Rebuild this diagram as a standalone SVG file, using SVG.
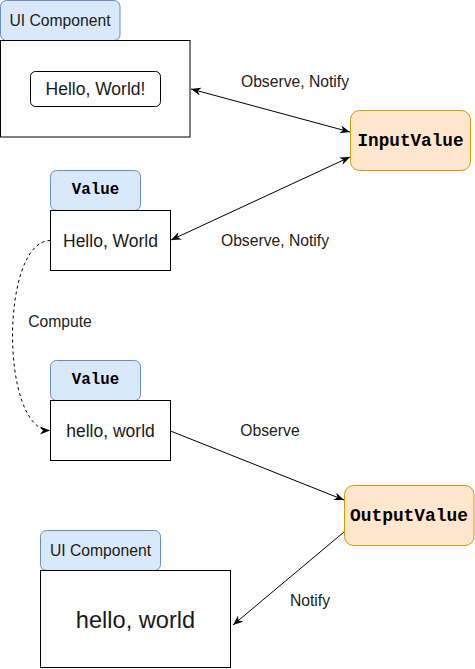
<svg xmlns="http://www.w3.org/2000/svg" width="475" height="669" viewBox="0 0 475 669">
<style>
.tab{fill:#dae8fc;stroke:#6c8ebf;stroke-width:1}
.box{fill:#fff;stroke:#000;stroke-width:1}
.orange{fill:#ffe6cc;stroke:#d79b00;stroke-width:1}
.t{font-family:"Liberation Sans",Arial,sans-serif;fill:#1a1a1a;text-anchor:middle;dominant-baseline:central}
.mono{font-family:"Liberation Mono","Courier New",monospace;font-weight:bold;fill:#000;text-anchor:middle;dominant-baseline:central}
.lbl{font-family:"Liberation Sans",Arial,sans-serif;font-size:15.7px;fill:#222;text-anchor:middle;dominant-baseline:central}
.edge{fill:none;stroke:#000;stroke-width:1}
</style>
<defs>
<marker id="arr" viewBox="0 0 10 8" refX="10" refY="4" markerWidth="10" markerHeight="8" markerUnits="userSpaceOnUse" orient="auto-start-reverse">
<path d="M0,0 L10,4 L0,8 L3,4 z" fill="#000"/>
</marker>
</defs>
<rect width="475" height="669" fill="#fff"/>

<g id="ui-top">
<rect class="tab" x="0.5" y="0.5" width="119.5" height="40" rx="6"/>
<text class="t" x="60" y="20" font-size="15.7">UI Component</text>
<rect class="box" x="0.5" y="40.5" width="189.5" height="96.5"/>
<rect class="box" x="30.5" y="71.5" width="130" height="35" rx="5"/>
<text class="t" x="95.5" y="89" font-size="17.5">Hello, World!</text>
</g>

<g id="input-value">
<rect class="orange" x="350.5" y="110.5" width="120" height="60" rx="9"/>
<text class="mono" x="410.5" y="140.5" font-size="17.7">InputValue</text>
</g>

<g id="value-1">
<rect class="tab" x="50.5" y="170.5" width="90" height="40" rx="6"/>
<text class="mono" x="95.5" y="190" font-size="15.8">Value</text>
<rect class="box" x="50.5" y="210.5" width="120" height="60"/>
<text class="t" x="110.5" y="240.5" font-size="17.5">Hello, World</text>
</g>

<g id="value-2">
<rect class="tab" x="50.5" y="360.5" width="90" height="40" rx="6"/>
<text class="mono" x="95.5" y="380" font-size="15.8">Value</text>
<rect class="box" x="50.5" y="400.5" width="120" height="60"/>
<text class="t" x="110.5" y="430.5" font-size="17.5">hello, world</text>
</g>

<g id="output-value">
<rect class="orange" x="344.5" y="485.5" width="129.5" height="60" rx="9"/>
<text class="mono" x="409" y="515.5" font-size="17.9">OutputValue</text>
</g>

<g id="ui-bottom">
<rect class="tab" x="40.5" y="530.5" width="120" height="40" rx="6"/>
<text class="t" x="100.5" y="550.5" font-size="15.7">UI Component</text>
<rect class="box" x="40.5" y="570.5" width="190" height="97"/>
<text class="t" x="135.5" y="620" font-size="23.6">hello, world</text>
</g>

<g id="connectors">
<path class="edge" d="M191,89 L350,132" marker-start="url(#arr)" marker-end="url(#arr)"/>
<path class="edge" d="M171,240 L350,157" marker-start="url(#arr)" marker-end="url(#arr)"/>
<path class="edge" d="M50.5,240.5 C0,240.5 0,430.5 50,430.5" stroke-dasharray="3,3" marker-end="url(#arr)"/>
<path class="edge" d="M170.5,431 L344,500" marker-end="url(#arr)"/>
<path class="edge" d="M344,532 L233,625" marker-end="url(#arr)"/>
<text class="lbl" x="295" y="81">Observe, Notify</text>
<text class="lbl" x="275" y="240">Observe, Notify</text>
<text class="lbl" x="60" y="321">Compute</text>
<text class="lbl" x="270" y="430">Observe</text>
<text class="lbl" x="310" y="600">Notify</text>
</g>
</svg>
